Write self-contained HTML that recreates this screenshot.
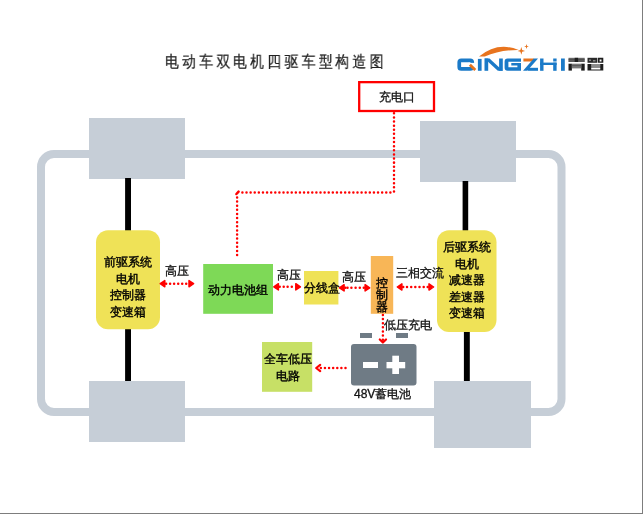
<!DOCTYPE html>
<html><head><meta charset="utf-8">
<style>
html,body{margin:0;padding:0;}
body{width:643px;height:514px;position:relative;overflow:hidden;background:#fff;font-family:"Liberation Sans",sans-serif;color:#111;}
.edge{position:absolute;left:0;top:0;width:642px;height:513px;border-right:1px solid #7d7d7d;border-bottom:1px solid #7d7d7d;}
.t{will-change:transform;position:absolute;white-space:nowrap;font-size:12px;line-height:16px;color:#111;-webkit-text-stroke:0.3px #111;}
.b{color:#000;-webkit-text-stroke:0.38px #000;}
svg{position:absolute;left:0;top:0;}
</style></head>
<body>
<div class="edge"></div>
<svg width="643" height="514" viewBox="0 0 643 514">
  <!-- logo -->
  <g fill="#1B7AC8">
    <rect x="459.25" y="60.35" width="13" height="8.6" rx="2" fill="none" stroke="#1B7AC8" stroke-width="3.7"/>
    <path d="M468.3 62.8 L476.5 71 L476.5 63 Z" fill="#fff" stroke="none"/>
    <path d="M469.9 64.7 L475.3 70.1" stroke="#E8741E" stroke-width="2.8" fill="none"/>
    <rect x="477.9" y="58.9" width="3.7" height="11.9"/>
    <rect x="484.5" y="58.5" width="3.7" height="12.3"/>
    <rect x="499.1" y="58.5" width="3.7" height="12.3"/>
    <path d="M484.5 58.5 L489.5 58.5 L502.8 70.8 L497.8 70.8 Z"/>
    <path d="M507.6 58.5 H521 V61.8 H508.4 V67.3 H517.4 V65.6 H511.3 V63 H521 V70.8 H507.6 Q504.6 70.8 504.6 67.8 V61.5 Q504.6 58.5 507.6 58.5 Z"/>
    <rect x="523.4" y="58.5" width="10.6" height="3" fill="#E8741E"/>
    <path d="M533.8 58.5 L538 58.5 L527.3 70.8 L523 70.8 Z"/>
    <rect x="527.8" y="67.8" width="10.2" height="3"/>
    <rect x="540.1" y="58.5" width="3.4" height="12.3"/>
    <rect x="553.2" y="58.5" width="3.4" height="3"/>
    <rect x="553.2" y="62.6" width="3.4" height="8.2"/>
    <rect x="540.1" y="62.6" width="16.5" height="2.4"/>
    <rect x="561" y="58.5" width="3.8" height="12.3"/>
  </g>
  <path d="M479 56.6 Q497.5 41.2 518.7 50 Q499.5 49.8 484.8 56.6 Z" fill="#E8741E"/>
  <path d="M521.3 47.1 L522.2 50 L525.1 50.9 L522.2 51.8 L521.3 54.7 L520.4 51.8 L517.5 50.9 L520.4 50 Z" fill="#E8741E"/>
  <path d="M526.5 44.1 L527.1 45.9 L528.9 46.5 L527.1 47.1 L526.5 48.9 L525.9 47.1 L524.1 46.5 L525.9 45.9 Z" fill="#E8741E"/>
  <!-- qingzhi cjk -->
  <rect x="568.5" y="57.8" width="16.2" height="4.2" fill="#6a6a6a"/>
  <rect x="568.5" y="58.9" width="16.2" height="0.8" fill="#444"/>
  <rect x="568.5" y="60.6" width="16.2" height="0.8" fill="#444"/>
  <rect x="574.7" y="57.8" width="3.4" height="4.2" fill="#1e1e1e"/>
  <rect x="568.5" y="63.7" width="3.4" height="6.9" fill="#1e1e1e"/>
  <rect x="581.2" y="63.7" width="3.5" height="6.9" fill="#1e1e1e"/>
  <rect x="571.9" y="63.7" width="9.3" height="4.7" fill="#7a7a7a"/>
  <rect x="571.9" y="65.2" width="9.3" height="0.9" fill="#555"/>
  <path d="M587.5 57.8 H597.1 V62.8 H587.5 Z" fill="#2a2a2a"/>
  <path d="M589 59.5 H591 V61 H589 Z M593 60 H595.5 V61.5 H593 Z" fill="#8a8a8a"/>
  <path d="M597.7 57.8 H603.3 V62.8 H597.7 Z M599.6 59.4 V61.5 H601.5 V59.4 Z" fill="#1e1e1e" fill-rule="evenodd"/>
  <path d="M587.5 64 H603.3 V70.6 H587.5 Z M591.2 64.6 V65.4 H600.3 V64.6 Z M591.2 67.6 V69.6 H600.3 V67.6 Z" fill="#1e1e1e" fill-rule="evenodd"/>
  <rect x="591.2" y="65.4" width="9.1" height="1.6" fill="#8a8a8a"/>
  <!-- frame -->
  <rect x="41" y="154" width="520.5" height="258" rx="13" ry="13" fill="none" stroke="#C6CED7" stroke-width="8"/>
  <!-- wheels -->
  <rect x="89" y="118" width="96" height="61" fill="#C6CED7"/>
  <rect x="420" y="121" width="96" height="61" fill="#C6CED7"/>
  <rect x="89" y="381" width="96" height="61" fill="#C6CED7"/>
  <rect x="434" y="381" width="97" height="67" fill="#C6CED7"/>
  <!-- axles -->
  <rect x="125.1" y="178" width="5.9" height="203" fill="#000"/>
  <rect x="462.6" y="181" width="5.6" height="60" fill="#000"/>
  <rect x="463.9" y="320" width="5.9" height="61" fill="#000"/>
  <!-- boxes -->
  <rect x="96" y="230.3" width="64" height="98.9" rx="12" fill="#EFE257"/>
  <rect x="437" y="230.3" width="59.5" height="101.7" rx="12" fill="#EFE257"/>
  <rect x="203.2" y="264" width="69.8" height="49.8" fill="#7ED957"/>
  <rect x="304" y="271" width="34.4" height="33.5" fill="#EFE257"/>
  <rect x="370.8" y="256" width="22.4" height="57.8" fill="#F8B657"/>
  <rect x="262" y="342" width="50.2" height="49.8" fill="#C7E066"/>
  <!-- charge port -->
  <rect x="359.2" y="82.15" width="74.8" height="28.85" fill="none" stroke="#FF0000" stroke-width="2.3"/>
  <!-- battery -->
  <rect x="360" y="333" width="12" height="5" fill="#6F7B85"/>
  <rect x="396" y="333" width="12" height="5" fill="#6F7B85"/>
  <rect x="351" y="344" width="65.5" height="41.5" rx="3" fill="#6F7B85"/>
  <rect x="363" y="362" width="15" height="6" fill="#fff"/>
  <rect x="386.5" y="362" width="18.7" height="6.3" fill="#fff"/>
  <rect x="392.3" y="355.7" width="6.7" height="18.3" fill="#fff"/>
  <!-- dotted lines -->
  <g fill="none" stroke="#FF0000" stroke-width="2.5" stroke-linecap="round" stroke-dasharray="0.01 4.1">
    <path d="M242.4 192.4 H394"/>
    <path d="M394 113.3 V192.4"/>
    <path d="M237.1 197.5 V256"/>
    <path d="M382.9 315 V340"/>
    <path d="M345.5 368 H320"/>
    <path d="M170.1 283.7h0.01 M174.1 283.7h0.01 M178.2 283.7h0.01 M182.2 283.7h0.01 M186.2 283.7h0.01"/>
    <path d="M166.1 283.7h0.01"/>
    <path d="M283.7 286.8h0.01 M287.6 286.8h0.01 M291.8 286.8h0.01"/>
    <path d="M279.7 286.8h0.01"/>
    <path d="M347.5 287.8h0.01 M351.4 287.8h0.01 M355.6 287.8h0.01 M359.8 287.8h0.01"/>
    <path d="M345.4 287.8h0.01 M363.8 287.8h0.01"/>
    <path d="M407.0 287.0h0.01 M411.2 287.0h0.01 M415.3 287.0h0.01 M419.5 287.0h0.01 M423.7 287.0h0.01"/>
    <path d="M403.2 287.0h0.01 M427.7 287.0h0.01"/>
    
  </g>
  <path d="M236.4 194 L238.6 191.6" stroke="#FF0000" stroke-width="2.5" stroke-linecap="round"/>
  <!-- arrow heads -->
  <g fill="#FF0000" stroke="#FF0000" stroke-width="1.5" stroke-linejoin="round">
    <path d="M160.2 283.7 L164.8 280.6 L164.8 286.8 Z"/>
    <path d="M193.6 283.7 L189.0 280.6 L189.0 286.8 Z"/>
    <path d="M273.8 286.8 L278.4 283.7 L278.4 289.9 Z"/>
    <path d="M300.4 286.8 L295.8 283.7 L295.8 289.9 Z"/>
    <path d="M339.5 287.8 L344.1 284.7 L344.1 290.9 Z"/>
    <path d="M369.7 287.8 L365.1 284.7 L365.1 290.9 Z"/>
    <path d="M397.3 287.0 L401.9 283.9 L401.9 290.1 Z"/>
    <path d="M433.6 287.0 L429.0 283.9 L429.0 290.1 Z"/>
  </g>
  <g fill="none" stroke="#FF0000" stroke-width="2.2" stroke-linecap="round" stroke-linejoin="round">
    <path d="M379.8 339.5 L382.9 342.5 L386 339.5"/>
    <path d="M320.2 364.9 L316.2 368 L320.2 371.1"/>
  </g>
</svg>
<div class="t" style="left:164.6px;top:51.2px;font-size:16px;letter-spacing:3.84px;line-height:22px;color:#222;-webkit-text-stroke:0.25px #222;transform:scaleX(0.86);transform-origin:0 0">电动车双电机四驱车型构造图</div>
<div class="t" style="left:378.8px;top:89.3px;font-size:12.2px;letter-spacing:0.2px">充电口</div>
<div class="t b" style="left:96px;top:253.6px;width:64px;text-align:center;line-height:16.6px">前驱系统<br>电机<br>控制器<br>变速箱</div>
<div class="t b" style="left:437px;top:238.6px;width:59.5px;text-align:center;line-height:16.6px">后驱系统<br>电机<br>减速器<br>差速器<br>变速箱</div>
<div class="t" style="left:165px;top:263px;">高压</div>
<div class="t" style="left:277px;top:266.5px;">高压</div>
<div class="t" style="left:342px;top:268.5px;">高压</div>
<div class="t" style="left:396px;top:264.6px;">三相交流</div>
<div class="t b" style="left:208.3px;top:281.8px;">动力电池组</div>
<div class="t b" style="left:304px;top:280px;">分线盒</div>
<div class="t b" style="left:375.6px;top:277px;width:12px;line-height:12px;white-space:normal">控制器</div>
<div class="t" style="left:384.3px;top:317.2px;">低压充电</div>
<div class="t" style="left:354px;top:385.5px;">48V蓄电池</div>
<div class="t b" style="left:262.6px;top:350.8px;width:50px;text-align:center;line-height:16.6px">全车低压<br>电路</div>
</body></html>
